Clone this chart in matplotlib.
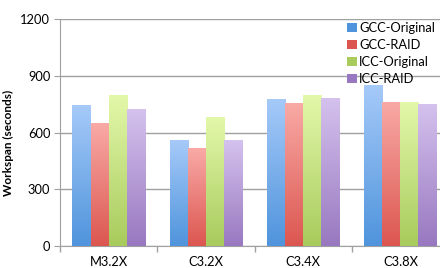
import numpy as np
import matplotlib.pyplot as plt
from matplotlib.colors import LinearSegmentedColormap

plt.rcParams['font.family'] = ['Lato', 'DejaVu Sans']

# Данные
categories = ['M3.2X', 'C3.2X', 'C3.4X', 'C3.8X']
series = ['GCC-Original', 'GCC-RAID', 'ICC-Original', 'ICC-RAID']
gcc_original = [745, 560, 778, 852]
gcc_raid = [650, 518, 757, 762]
icc_original = [797, 681, 797, 762]
icc_raid = [725, 560, 783, 751]
values = [gcc_original, gcc_raid, icc_original, icc_raid]

# Цвета: верх и низ градиента
tops = ['#a6caf9', '#f9aaa6', '#e3f8aa', '#d5c2ee']
bottoms = ['#4f94dc', '#dc5650', '#a8cb5c', '#9878c0']

fig = plt.figure(figsize=(4.4, 2.68), dpi=100)
ax = fig.add_axes([60 / 440, 22 / 268, 389 / 440, 227 / 268])

x = np.arange(len(categories))
width = 0.186
ymax = 1200

for i, (name, vals) in enumerate(zip(series, values)):
    pos = x + (i - 1.5) * width
    bars = ax.bar(pos, vals, width, color=tops[i], label=name, zorder=2)
    cmap = LinearSegmentedColormap.from_list(name, [bottoms[i], tops[i]])
    grad = np.linspace(0, 1, 256).reshape(-1, 1)
    for b in bars:
        bx = b.get_x()
        bw, bh = b.get_width(), b.get_height()
        im = ax.imshow(grad, cmap=cmap, origin='lower', aspect='auto',
                       extent=[bx, bx + bw, 0, bh], zorder=3)
        im.set_clip_path(b)

ax.set_xlim(-0.5, len(categories) - 0.5)
ax.set_ylim(0, ymax)
ax.set_yticks([0, 300, 600, 900, 1200])
ax.set_xticks(x)
ax.set_xticklabels(categories)
ax.set_xticks(np.arange(-0.5, len(categories), 1), minor=True)
ax.tick_params(axis='x', which='major', length=0, pad=7, labelsize=9.3)
ax.tick_params(axis='x', which='minor', length=4, color='#a0a0a0', width=1)
ax.tick_params(axis='y', length=4, color='#a0a0a0', labelsize=9.3, pad=3)

ax.grid(axis='y', color='#a0a0a0', linewidth=1, zorder=0)
ax.set_axisbelow(True)
for s in ['top', 'right']:
    ax.spines[s].set_visible(False)
ax.spines['left'].set_color('#a0a0a0')
ax.spines['bottom'].set_color('#a0a0a0')

ax.set_ylabel('Workspan (seconds)', fontsize=8.5, fontweight='bold')
ax.yaxis.set_label_coords(-0.118, 0.455)

handles, labels = ax.get_legend_handles_labels()
for h, c in zip(handles, bottoms):
    h.patches[0].set_facecolor(c)
leg = fig.legend(handles, labels, loc='upper left', bbox_to_anchor=(341 / 440, 1 - 16 / 268),
                 frameon=False, fontsize=9.3, handlelength=0.7, handleheight=0.7,
                 handletextpad=0.2, labelspacing=0.38, borderpad=0)

fig.savefig('out.png', dpi=100)
